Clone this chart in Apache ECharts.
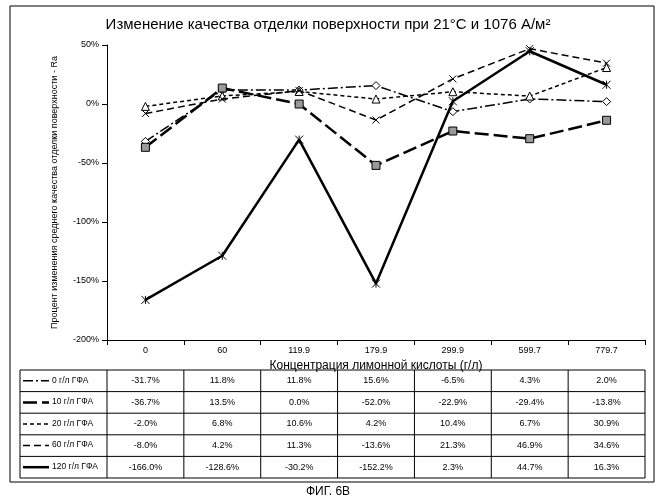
<!DOCTYPE html>
<html><head><meta charset="utf-8">
<script src="https://cdn.jsdelivr.net/npm/echarts@6/dist/echarts.min.js"></script>
<style>html,body{margin:0;background:#fff}#c{width:656px;height:500px}</style>
</head><body><div id="c"></div>
<script>
var categories = ['0', '60', '119.9', '179.9', '299.9', '599.7', '779.7'];
var names = ['0 г/л ГФА', '10 г/л ГФА', '20 г/л ГФА', '60 г/л ГФА', '120 г/л ГФА'];
var s0 = [-31.7, 11.8, 11.8, 15.6, -6.5, 4.3, 2.0];
var s10 = [-36.7, 13.5, 0.0, -52.0, -22.9, -29.4, -13.8];
var s20 = [-2.0, 6.8, 10.6, 4.2, 10.4, 6.7, 30.9];
var s60 = [-8.0, 4.2, 11.3, -13.6, 21.3, 46.9, 34.6];
var s120 = [-166.0, -128.6, -30.2, -152.2, 2.3, 44.7, 16.3];
var yTicks = [-200, -150, -100, -50, 0, 50];

var data = [s0, s10, s20, s60, s120];
var styles = [
  {type: [10, 3, 2, 3], width: 1.5, symbol: 'diamond', size: 8, fill: '#fff'},
  {type: [14, 5], width: 2.5, symbol: 'rect', size: 8, fill: '#999'},
  {type: [4, 3], width: 1.5, symbol: 'triangle', size: 8, fill: '#fff'},
  {type: [7, 4], width: 1.5, symbol: 'path://M0,0L10,10M10,0L0,10', size: 7, fill: '#222'},
  {type: 'solid', width: 2.5, symbol: 'path://M0,0L10,10M10,0L0,10M5,0L5,10', size: 8, fill: '#222'}
];

var L = 107, R = 645, top0 = 370, rowH = 21.6;
var colW = (R - L) / categories.length;
var g = [];
function line(x1, y1, x2, y2, w) {
  g.push({type: 'line', shape: {x1: x1, y1: y1, x2: x2, y2: y2}, style: {stroke: '#000', lineWidth: w || 1}, silent: true});
}
// table grid
for (var r = 0; r <= names.length; r++) line(20, top0 + r * rowH, R, top0 + r * rowH);
line(20, top0, 20, top0 + names.length * rowH);
for (var c = 0; c <= categories.length; c++) line(L + c * colW, top0, L + c * colW, top0 + names.length * rowH);
data.forEach(function (arr, i) {
  var cy = top0 + i * rowH + rowH / 2, st = styles[i];
  g.push({type: 'line', shape: {x1: 23, y1: cy, x2: 49, y2: cy},
    style: {stroke: '#000', lineWidth: st.width, lineDash: st.type === 'solid' ? null : st.type}, silent: true});
  g.push({type: 'text', left: 52, top: cy - 5, style: {text: names[i], font: '8.5px "Liberation Sans"', fill: '#000'}});
  arr.forEach(function (v, j) {
    g.push({type: 'text', x: L + j * colW + colW / 2, y: cy,
      style: {text: v.toFixed(1) + '%', font: '9px "Liberation Sans"', fill: '#000', align: 'center', verticalAlign: 'middle'}});
  });
});
g.push({type: 'rect', shape: {x: 10, y: 6, width: 644, height: 476}, style: {fill: null, stroke: '#000', lineWidth: 1}, silent: true});
g.push({type: 'text', x: 328, y: 486, style: {text: 'ФИГ. 6В', font: '12px "Liberation Sans"', fill: '#000', align: 'center'}});

var chart = echarts.init(document.getElementById('c'));
chart.setOption({
  animation: false,
  title: {text: 'Изменение качества отделки поверхности при 21°С и 1076 А/м²', left: 'center', top: 12,
    textStyle: {fontSize: 15, fontWeight: 'normal', fontFamily: 'Liberation Sans', color: '#000'}},
  grid: {left: L, right: 656 - R, top: 45, bottom: 500 - 340},
  xAxis: {type: 'category', data: categories, boundaryGap: true,
    name: 'Концентрация лимонной кислоты (г/л)', nameLocation: 'middle', nameGap: 18,
    nameTextStyle: {fontSize: 12, color: '#000', fontFamily: 'Liberation Sans'},
    axisLine: {onZero: false, lineStyle: {color: '#000'}}, axisTick: {show: true, lineStyle: {color: '#000'}},
    axisLabel: {fontSize: 9, color: '#000', margin: 6}},
  yAxis: {type: 'value', min: yTicks[0], max: yTicks[yTicks.length - 1], interval: 50,
    name: 'Процент изменения среднего качества отделки поверхности - Ra', nameLocation: 'middle', nameGap: 48,
    nameTextStyle: {fontSize: 9, color: '#000', fontFamily: 'Liberation Sans'},
    axisLine: {show: true, lineStyle: {color: '#000'}}, axisTick: {show: true, lineStyle: {color: '#000'}},
    splitLine: {show: false},
    axisLabel: {fontSize: 9, color: '#000', formatter: '{value}%'}},
  series: data.map(function (arr, i) {
    var st = styles[i];
    return {name: names[i], type: 'line', data: arr, symbol: st.symbol, symbolSize: st.size,
      lineStyle: {color: '#000', width: st.width, type: st.type},
      itemStyle: {color: st.fill, borderColor: '#000', borderWidth: 1}, z: 2 + i};
  }),
  graphic: g
});
</script></body></html>
